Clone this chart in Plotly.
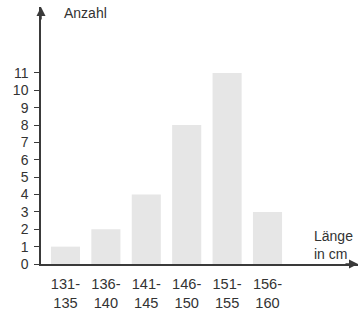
import plotly.graph_objects as go

categories = ["131-<br>135", "136-<br>140", "141-<br>145", "146-<br>150", "151-<br>155", "156-<br>160"]
counts = [1, 2, 4, 8, 11, 3]
y_ticks = list(range(0, 12))

axis_color = "#3a3a3a"
text_color = "#333333"
font_family = "Liberation Sans, Arial, sans-serif"

xs = list(range(len(categories)))

fig = go.Figure(go.Bar(x=xs, y=counts, width=0.72, marker=dict(color="#e6e6e6", line=dict(width=0))))

fig.update_layout(
    width=360, height=316,
    margin=dict(l=41, r=2, t=7, b=52),
    paper_bgcolor="white", plot_bgcolor="white",
    showlegend=False,
    font=dict(family=font_family, size=14, color=text_color),
)
fig.update_xaxes(
    range=[-0.606, 7.24],
    tickvals=xs, ticktext=categories,
    showgrid=False, zeroline=False,
    showline=True, linecolor=axis_color, linewidth=1.5,
    ticks="", ticklabelstandoff=6, automargin=False,
    tickfont=dict(size=14.6, color=text_color),
)
fig.update_yaxes(
    range=[0, 14.8],
    tickvals=y_ticks,
    showgrid=False, zeroline=False,
    showline=True, linecolor=axis_color, linewidth=1.5,
    ticks="outside", ticklen=5, tickwidth=1.2, tickcolor=axis_color,
    ticklabelstandoff=3, automargin=False,
    tickfont=dict(size=14, color=text_color),
)

# axis arrowheads
fig.add_annotation(x=0, y=1, xref="paper", yref="paper", ax=0, ay=14, text="",
                   showarrow=True, arrowhead=2, arrowsize=1.2, arrowwidth=1.5, arrowcolor=axis_color)
fig.add_annotation(x=1, y=0, xref="paper", yref="paper", ax=-14, ay=0, text="",
                   showarrow=True, arrowhead=2, arrowsize=1.2, arrowwidth=1.5, arrowcolor=axis_color)

fig.add_annotation(x=(62 - 41) / 317, y=0.977, xref="paper", yref="paper", text="Anzahl",
                   showarrow=False, xanchor="left", yanchor="middle",
                   font=dict(size=14, color=text_color))
fig.add_annotation(x=(312 - 41) / 317, y=(264 - 245) / 257, xref="paper", yref="paper",
                   text="Länge<br>in cm", align="left",
                   showarrow=False, xanchor="left", yanchor="middle",
                   font=dict(size=14, color=text_color))

fig.write_html("out.html", config={"displayModeBar": False},
               post_script="document.body.style.margin='0';")
